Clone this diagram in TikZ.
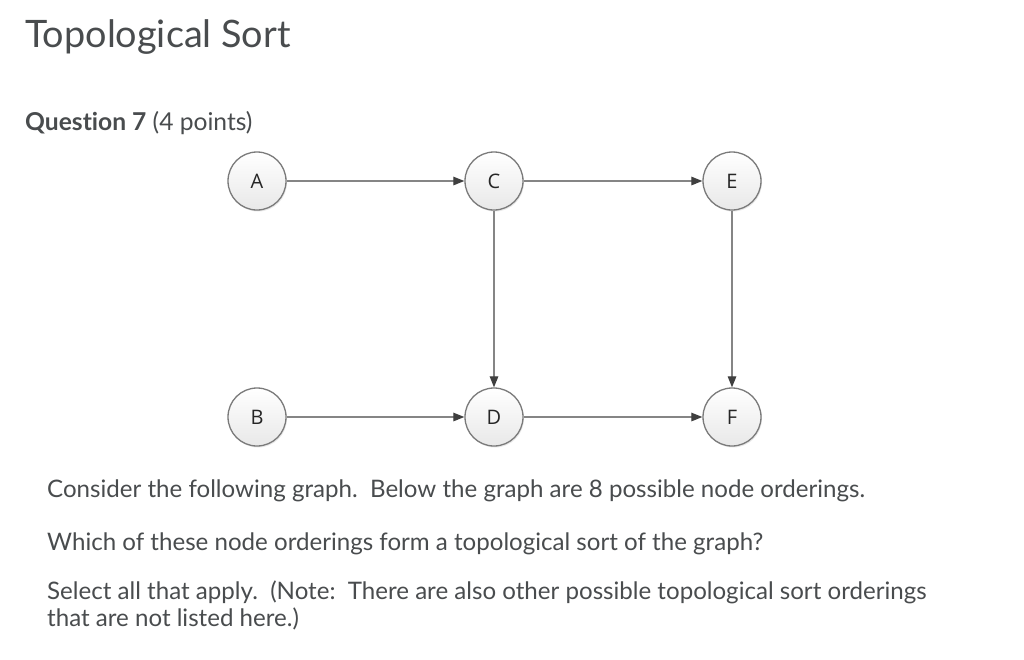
\documentclass[tikz,border=0pt]{standalone}
\usepackage{fontspec}
\setmainfont{Lato}[Ligatures=NoCommon]
\newfontfamily\nodefont{Open Sans}
\usetikzlibrary{arrows.meta,shadows}
\definecolor{txt}{HTML}{494C4E}
\definecolor{ring}{HTML}{7A7A7A}
\definecolor{edge}{HTML}{858585}
\definecolor{tipc}{HTML}{3F3F3F}
\begin{document}
\begin{tikzpicture}[x=1pt,y=-1pt,
  vert/.style={circle, draw=ring, line width=1.3pt, minimum size=58pt, inner sep=0pt,
    top color=white, bottom color=black!9,
    drop shadow={opacity=0.18, shadow xshift=1pt, shadow yshift=-1.5pt},
    font=\nodefont\fontsize{20}{22}\selectfont, text=black!85},
  conn/.style={draw=edge, line width=1.2pt, -{Triangle[length=11pt,width=8.5pt,color=tipc]}},
  body/.style={anchor=base west, inner sep=0pt, text=txt, font=\fontsize{24.1}{28}\selectfont}
]
\useasboundingbox (0,0) rectangle (1024,659);
\fill[white] (0,0) rectangle (1024,659);
\node[anchor=base west, inner sep=0pt, text=txt, font=\fontsize{37.8}{44}\selectfont] (title) at (25,47) {Topological Sort};
\node[anchor=base west, inner sep=0pt, text=txt, font=\fontsize{24.6}{28}\selectfont] (q) at (25,130) {\textbf{Question 7} (4 points)};

\node[vert] (A) at (257,181) {A};
\node[vert] (C) at (494,181) {C};
\node[vert] (E) at (732,181) {E};
\node[vert] (B) at (257,417) {B};
\node[vert] (D) at (494,417) {D};
\node[vert] (F) at (732,417) {F};

\draw[conn] (A) -- (C);
\draw[conn] (C) -- (E);
\draw[conn] (C) -- (D);
\draw[conn] (E) -- (F);
\draw[conn] (B) -- (D);
\draw[conn] (D) -- (F);

\node[body] (l1) at (47,497) {Consider the following graph.\ \ Below the graph are 8 possible node orderings.};
\node[body] (l2) at (47,550) {Which of these node orderings form a topological sort of the graph?};
\node[body] (l3) at (47,599) {Select all that apply.\ \ (Note:\ \ There are also other possible topological sort orderings};
\node[body] (l4) at (47,626) {that are not listed here.)};
\end{tikzpicture}
\end{document}
